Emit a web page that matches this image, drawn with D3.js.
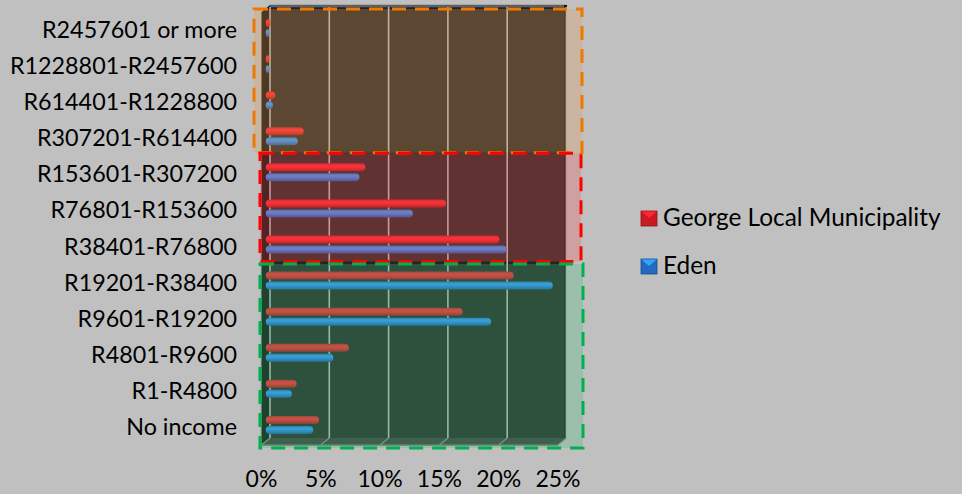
<!DOCTYPE html>
<html>
<head>
<meta charset="utf-8">
<script src="https://cdn.jsdelivr.net/npm/d3@7"></script>
<style>
  html, body { margin: 0; padding: 0; background: #c0c0c0; }
  svg { display: block; font-family: Lato, "Open Sans", sans-serif; }
</style>
</head>
<body>
<svg id="chart" width="962" height="494"></svg>
<script>
// Household income bands, top to bottom
const categories = [
  "R2457601 or more", "R1228801-R2457600", "R614401-R1228800", "R307201-R614400",
  "R153601-R307200", "R76801-R153600", "R38401-R76800", "R19201-R38400",
  "R9601-R19200", "R4801-R9600", "R1-R4800", "No income"
];
// Share of households (%)
const georgeValues = [0.4, 0.3, 0.8, 3.2, 8.4, 15.2, 19.7, 20.9, 16.6, 7.0, 2.6, 4.5];
const edenValues   = [0.3, 0.3, 0.6, 2.7, 7.9, 12.4, 20.3, 24.2, 19.0, 5.7, 2.2, 4.0];
const seriesNames  = ["George Local Municipality", "Eden"];
const tickValues   = [0, 5, 10, 15, 20, 25];
// Highlighted groups of income bands
const groupFirst = ["R2457601 or more", "R153601-R307200", "R19201-R38400"];
const groupLast  = ["R307201-R614400", "R38401-R76800", "No income"];

const svg = d3.select("#chart");
const defs = svg.append("defs");

// front plane of the 3-D plot and its depth offset
const front = { left: 261.5, right: 558, top: 12, bottom: 445 };
const depth = { dx: 8.5, dy: -7 };

const x = d3.scaleLinear().domain([0, 25]).range([front.left, front.right]);
const y = d3.scaleBand().domain(categories).range([front.top, front.bottom]);
const sub = d3.scaleBand().domain(seriesNames).range([9.5, 29.5]).paddingInner(0.2).paddingOuter(0.1);

const series = [
  { name: seriesNames[0], values: georgeValues, base: "#f01e28" },
  { name: seriesNames[1], values: edenValues, base: "#2a7fe8" }
];

// ---- walls ----
const wallFill = "#232323";
// back wall
svg.append("rect")
  .attr("x", front.left + depth.dx).attr("y", front.top + depth.dy)
  .attr("width", front.right - front.left).attr("height", front.bottom - front.top)
  .attr("fill", wallFill);
// left side wall
svg.append("polygon")
  .attr("points", [
    [front.left, front.top], [front.left + depth.dx, front.top + depth.dy],
    [front.left + depth.dx, front.bottom + depth.dy], [front.left, front.bottom]
  ].map(p => p.join(",")).join(" "))
  .attr("fill", "#0e0e0e");
// floor
svg.append("polygon")
  .attr("points", [
    [front.left, front.bottom], [front.left + depth.dx, front.bottom + depth.dy],
    [front.right + depth.dx, front.bottom + depth.dy], [front.right, front.bottom]
  ].map(p => p.join(",")).join(" "))
  .attr("fill", "#3a3a3a");
svg.append("line")
  .attr("x1", front.left).attr("x2", front.right)
  .attr("y1", front.bottom).attr("y2", front.bottom)
  .attr("stroke", "#6a6a6a").attr("stroke-width", 1.5);
// top edge of back wall
svg.append("line")
  .attr("x1", front.left + depth.dx).attr("x2", front.right + depth.dx)
  .attr("y1", front.top + depth.dy + 1).attr("y2", front.top + depth.dy + 1)
  .attr("stroke", "#5a6068").attr("stroke-width", 2.5);
// right edge of back wall
svg.append("line")
  .attr("x1", front.right + depth.dx - 1).attr("x2", front.right + depth.dx - 1)
  .attr("y1", front.top + depth.dy).attr("y2", front.bottom + depth.dy)
  .attr("stroke", "#151515").attr("stroke-width", 3);

// gridlines on the back wall and floor
const grid = svg.append("g");
tickValues.forEach(t => {
  const gx = x(t) + depth.dx;
  grid.append("line")
    .attr("x1", gx).attr("x2", gx)
    .attr("y1", front.top + depth.dy + 2).attr("y2", front.bottom + depth.dy)
    .attr("stroke", "#b8b8b8").attr("stroke-width", 1.6);
  grid.append("line")
    .attr("x1", gx).attr("x2", x(t))
    .attr("y1", front.bottom + depth.dy).attr("y2", front.bottom)
    .attr("stroke", "#8a8a8a").attr("stroke-width", 1.2);
});

// ---- bars (cylinder shading) ----
series.forEach((s, i) => {
  const c = d3.color(s.base);
  const g = defs.append("linearGradient").attr("id", "bar" + i)
    .attr("x1", 0).attr("x2", 0).attr("y1", 0).attr("y2", 1);
  g.append("stop").attr("offset", "0%").attr("stop-color", c.darker(0.6));
  g.append("stop").attr("offset", "30%").attr("stop-color", c.brighter(0.5));
  g.append("stop").attr("offset", "60%").attr("stop-color", c);
  g.append("stop").attr("offset", "100%").attr("stop-color", c.darker(1.2));
});

const mid = { dx: depth.dx / 2, dy: depth.dy / 2 };
series.forEach((s, i) => {
  svg.append("g").selectAll("rect")
    .data(s.values)
    .join("rect")
    .attr("x", x(0) + mid.dx)
    .attr("y", (d, j) => y(categories[j]) + sub(s.name) + mid.dy)
    .attr("width", d => Math.max(x(d) - x(0), 3))
    .attr("height", sub.bandwidth())
    .attr("rx", sub.bandwidth() / 2)
    .attr("fill", `url(#bar${i})`);
});

// ---- highlighted group overlays ----
const groupStyle = [
  { fill: "rgb(222,155,85)", stroke: "#f07800", x0: 254, x1: 582, t: -3, b: -3.5 },
  { fill: "rgb(242,85,85)",  stroke: "#ff0000", x0: 260, x1: 581, t: -3.2, b: -3 },
  { fill: "rgb(72,190,125)", stroke: "#00b050", x0: 260, x1: 583, t: -0.7, b: 3 }
];
groupFirst.forEach((first, k) => {
  const st = groupStyle[k];
  const top = y(first) + st.t;
  const bottom = y(groupLast[k]) + y.bandwidth() + st.b;
  svg.append("rect")
    .attr("x", st.x0).attr("y", top)
    .attr("width", st.x1 - st.x0).attr("height", bottom - top)
    .attr("fill", st.fill).attr("fill-opacity", 0.3)
    .attr("stroke", st.stroke).attr("stroke-width", 3)
    .attr("stroke-dasharray", "14,9");
});

// ---- category labels ----
svg.append("g").selectAll("text")
  .data(categories)
  .join("text")
  .attr("x", 237)
  .attr("y", d => y(d) + y.bandwidth() / 2 + 8)
  .attr("text-anchor", "end")
  .attr("font-size", 23.3)
  .attr("fill", "#000")
  .text(d => d);

// ---- x axis labels ----
svg.append("g").selectAll("text")
  .data(tickValues)
  .join("text")
  .attr("x", d => x(d))
  .attr("y", 487)
  .attr("text-anchor", "middle")
  .attr("font-size", 23)
  .attr("fill", "#000")
  .text(d => d + "%");

// ---- legend ----
const legend = svg.append("g");
series.forEach((s, i) => {
  const ly = 211 + i * 48;
  const c = d3.color(s.base);
  const lg = legend.append("g").attr("transform", `translate(641,${ly})`);
  lg.append("rect").attr("width", 16).attr("height", 15)
    .attr("fill", c.darker(0.5)).attr("stroke", c.darker(1.4)).attr("stroke-width", 0.8);
  lg.append("polygon").attr("points", "0.5,0.5 15.5,0.5 8,7")
    .attr("fill", c.brighter(0.7));
  lg.append("text")
    .attr("x", 22).attr("y", 14.5)
    .attr("font-size", 24.4)
    .attr("fill", "#000")
    .text(s.name);
});
</script>
</body>
</html>
